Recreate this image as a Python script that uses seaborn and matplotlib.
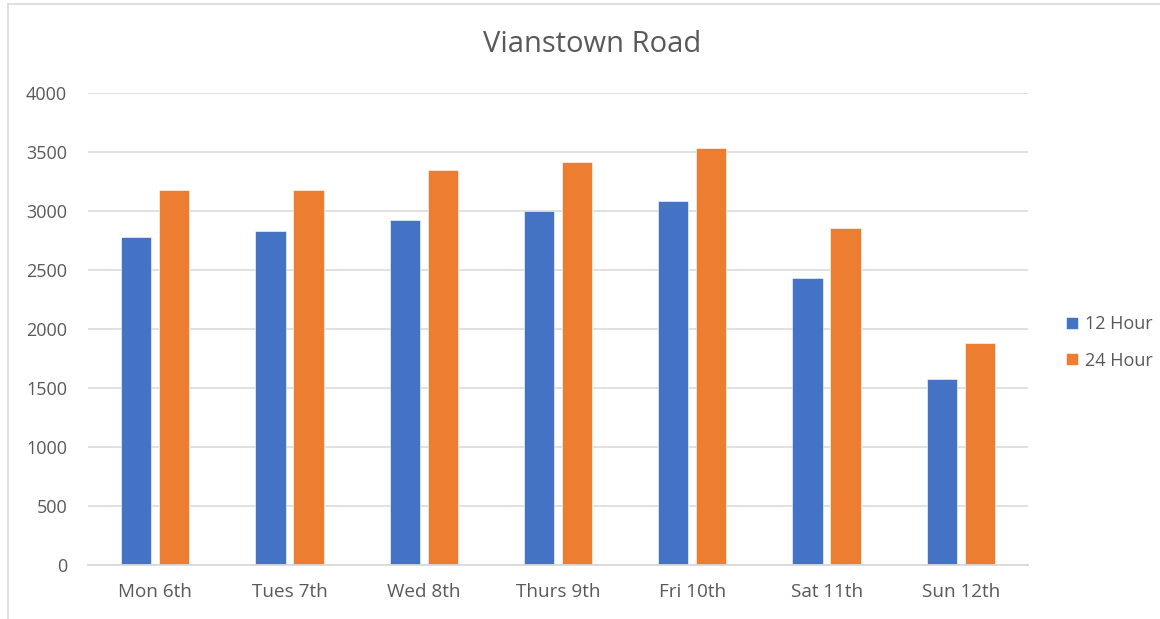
import matplotlib
matplotlib.use("Agg")
import matplotlib.pyplot as plt
from matplotlib.patches import Rectangle
import pandas as pd
import seaborn as sns

days = ["Mon 6th", "Tues 7th", "Wed 8th", "Thurs 9th", "Fri 10th", "Sat 11th", "Sun 12th"]
hour12 = [2780, 2830, 2927, 3003, 3085, 2435, 1574]
hour24 = [3176, 3174, 3344, 3412, 3531, 2855, 1883]
series_names = ["12 Hour", "24 Hour"]
yticks = [0, 500, 1000, 1500, 2000, 2500, 3000, 3500, 4000]

df = pd.DataFrame({
    "day": days * 2,
    "count": hour12 + hour24,
    "series": [series_names[0]] * len(days) + [series_names[1]] * len(days),
})

sns.set_theme(style="white")
plt.rcParams["font.family"] = ["Open Sans", "DejaVu Sans"]

text_grey = "#595959"
grid_grey = "#d9d9d9"

fig = plt.figure(figsize=(11.6, 6.19), dpi=100)
ax = fig.add_axes([88 / 1160, 54 / 619, 940 / 1160, 472 / 619])

sns.barplot(
    data=df, x="day", y="count", hue="series", order=days,
    hue_order=series_names, palette=["#4472C4", "#ED7D31"], saturation=1,
    width=0.566, gap=0.2, edgecolor="white", linewidth=0.4,
    ax=ax, legend=True,
)

ax.set_ylim(0, 4000)
ax.set_yticks(yticks)
ax.set_xlim(-0.5, len(days) - 0.5)
ax.yaxis.grid(True, color=grid_grey, linewidth=1.1)
ax.set_axisbelow(True)
for side in ["top", "right", "left"]:
    ax.spines[side].set_visible(False)
ax.spines["bottom"].set_color(grid_grey)
ax.spines["bottom"].set_linewidth(1.3)
ax.tick_params(axis="y", length=0, labelsize=13, labelcolor=text_grey, pad=15)
ax.tick_params(axis="x", length=0, labelsize=13.6, labelcolor=text_grey, pad=13)
ax.set_xlabel("")
ax.set_ylabel("")

fig.text(592 / 1160, 1 - 44 / 619, "Vianstown Road", ha="center", va="center",
         fontsize=21, color=text_grey)

handles, labels = ax.get_legend_handles_labels()
ax.legend(handles, labels, loc="center left", bbox_to_anchor=(1066 / 1160, 1 - 342.5 / 619),
          bbox_transform=fig.transFigure, frameon=False, fontsize=13,
          labelcolor=text_grey, handlelength=0.65, handleheight=0.65,
          handletextpad=0.4, labelspacing=1.0, borderpad=0, borderaxespad=0)

# light outer chart frame
fig.patches.append(Rectangle((8 / 1160, -0.05), 1.2, 1 - 4 / 619 + 0.05,
                             transform=fig.transFigure, fill=False,
                             edgecolor=grid_grey, linewidth=1.2))

fig.savefig("out.png", dpi=100)
